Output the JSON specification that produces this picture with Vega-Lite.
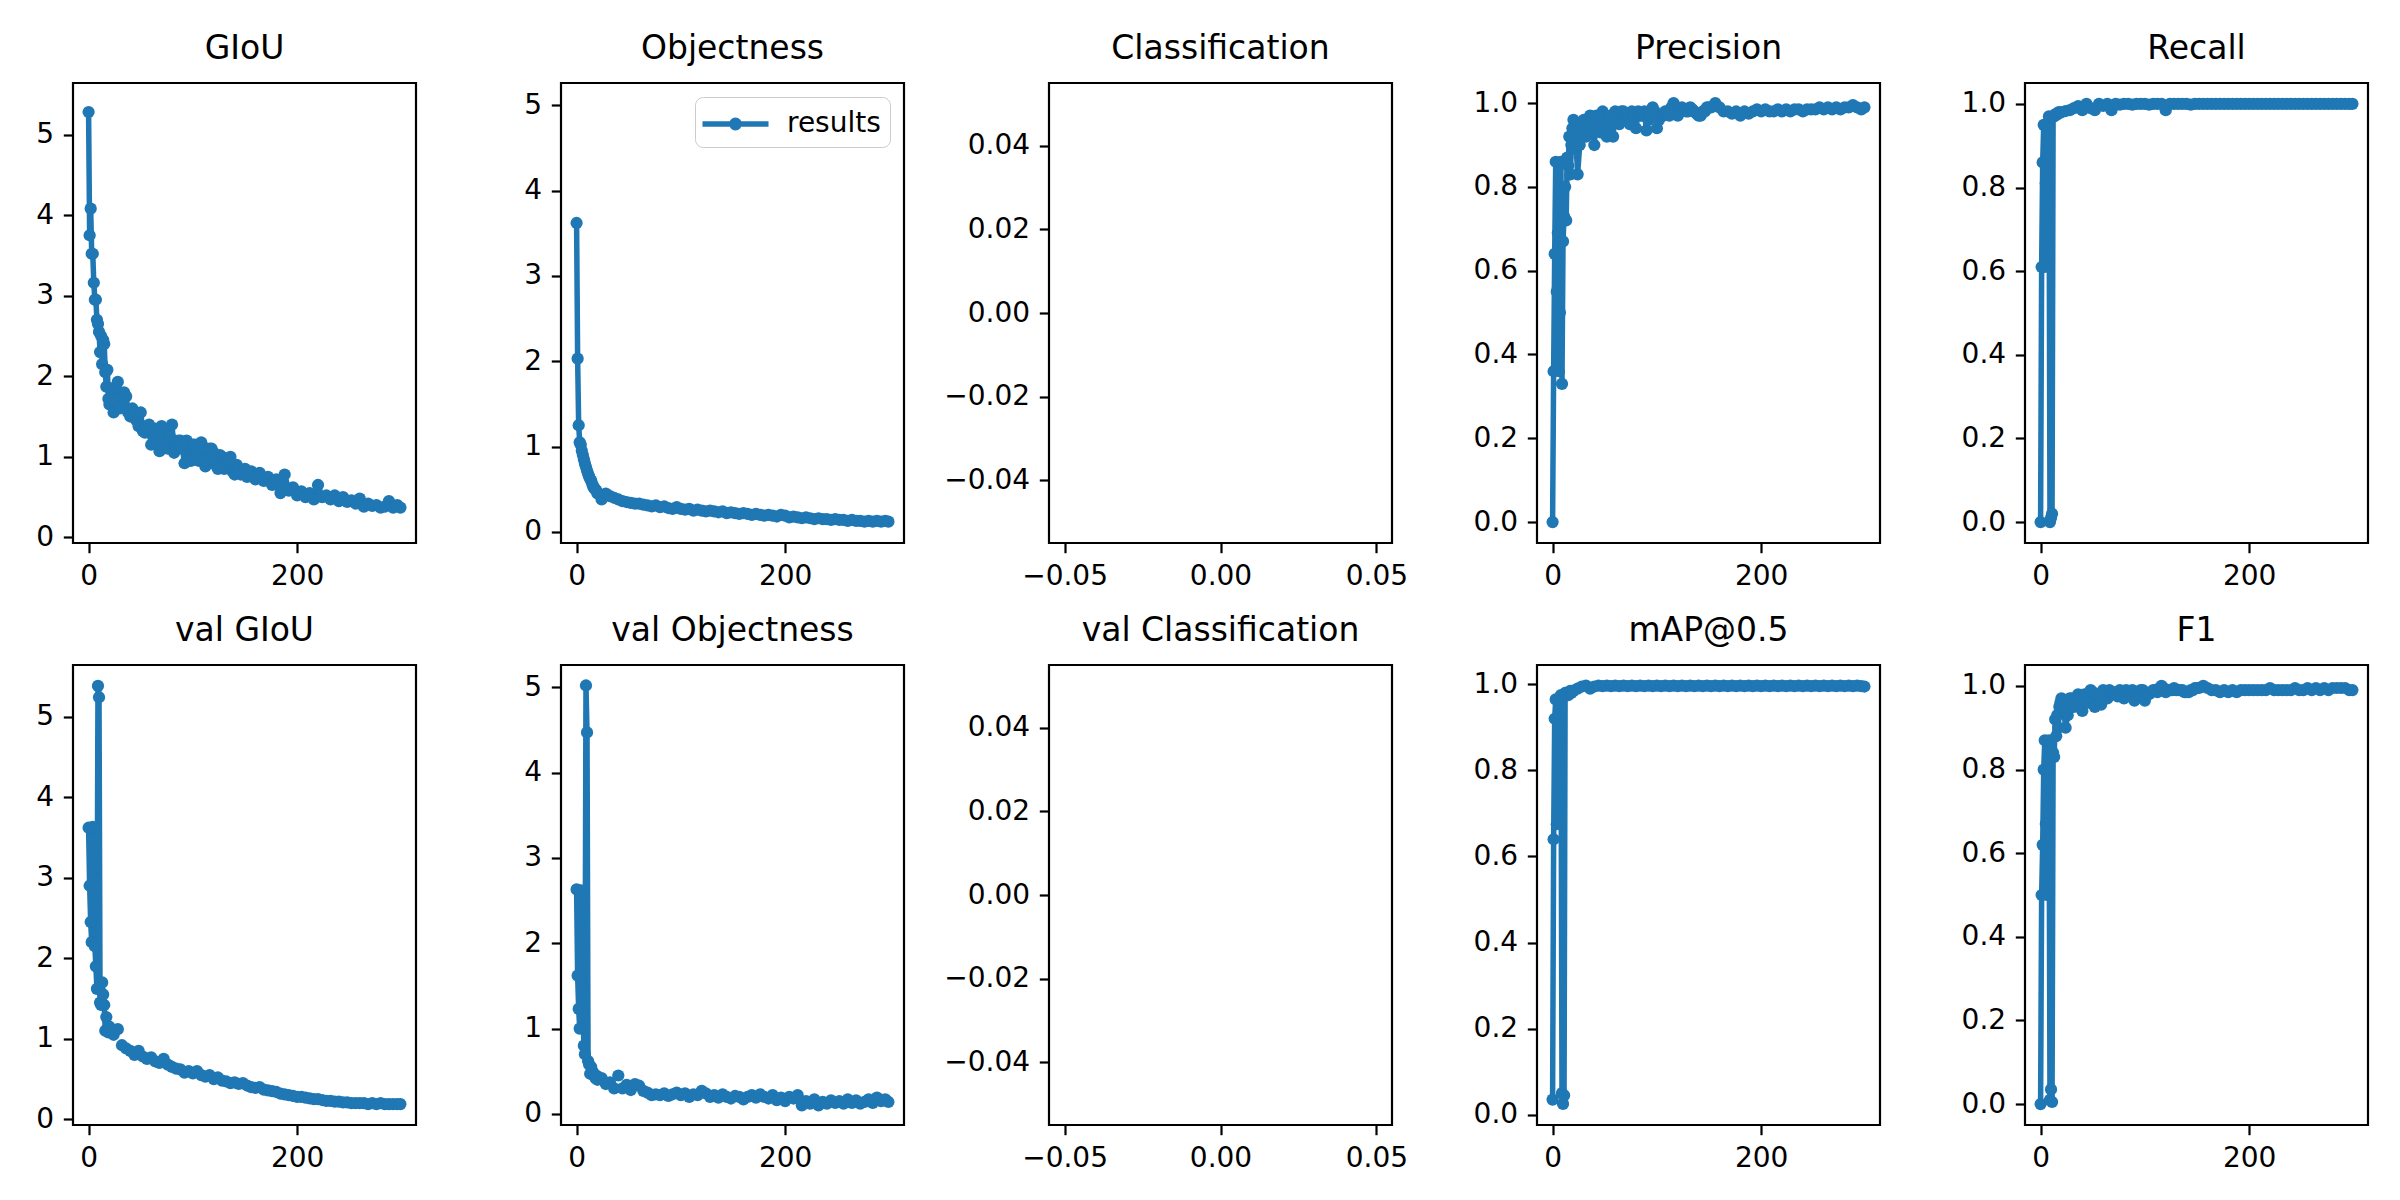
{
"$schema": "https://vega.github.io/schema/vega-lite/v6.json",
"background": "white",
"padding": {"left": 34, "top": 31, "right": 5, "bottom": 5},
"data": {"values": [
{"epoch":0,"giou":5.28,"obj":3.62,"precision":0.0,"recall":0.0,"val_giou":3.62,"val_obj":2.63,"map50":0.035,"f1":0.0},
{"epoch":1,"giou":3.75,"obj":2.03,"precision":0.36,"recall":0.61,"val_giou":2.9,"val_obj":1.62,"map50":0.64,"f1":0.5},
{"epoch":2,"giou":4.08,"obj":1.25,"precision":0.64,"recall":0.86,"val_giou":2.45,"val_obj":1.23,"map50":0.92,"f1":0.62},
{"epoch":3,"giou":3.52,"obj":1.05,"precision":0.86,"recall":0.95,"val_giou":2.2,"val_obj":1.0,"map50":0.965,"f1":0.8},
{"epoch":4,"giou":3.52,"obj":1.02,"precision":0.55,"recall":0.61,"val_giou":3.63,"val_obj":2.62,"map50":0.675,"f1":0.87},
{"epoch":5,"giou":3.16,"obj":0.95,"precision":0.69,"recall":0.81,"val_giou":3.0,"val_obj":1.63,"map50":0.695,"f1":0.67},
{"epoch":6,"giou":2.95,"obj":0.9,"precision":0.36,"recall":0.87,"val_giou":2.15,"val_obj":1.24,"map50":0.93,"f1":0.5},
{"epoch":7,"giou":2.95,"obj":0.85,"precision":0.5,"recall":0.95,"val_giou":1.9,"val_obj":0.8,"map50":0.97,"f1":0.8},
{"epoch":8,"giou":2.7,"obj":0.8,"precision":0.86,"recall":0.97,"val_giou":1.62,"val_obj":0.7,"map50":0.975,"f1":0.87},
{"epoch":9,"giou":2.65,"obj":0.76,"precision":0.33,"recall":0.0,"val_giou":5.38,"val_obj":5.02,"map50":0.05,"f1":0.01},
{"epoch":10,"giou":2.55,"obj":0.72,"precision":0.67,"recall":0.01,"val_giou":5.24,"val_obj":4.47,"map50":0.025,"f1":0.035},
{"epoch":11,"giou":2.3,"obj":0.68,"precision":0.73,"recall":0.02,"val_giou":1.45,"val_obj":0.62,"map50":0.045,"f1":0.005},
{"epoch":12,"giou":2.5,"obj":0.65,"precision":0.8,"recall":0.97,"val_giou":1.42,"val_obj":0.58,"map50":0.98,"f1":0.84},
{"epoch":13,"giou":2.15,"obj":0.62,"precision":0.72,"recall":0.97,"val_giou":1.7,"val_obj":0.47,"map50":0.975,"f1":0.83},
{"epoch":14,"giou":2.45,"obj":0.6,"precision":0.87,"recall":0.975,"val_giou":1.55,"val_obj":0.55,"map50":0.98,"f1":0.92},
{"epoch":15,"giou":2.4,"obj":0.56,"precision":0.85,"recall":0.975,"val_giou":1.42,"val_obj":0.5,"map50":0.975,"f1":0.88},
{"epoch":16,"giou":2.05,"obj":0.53,"precision":0.92,"recall":0.975,"val_giou":1.1,"val_obj":0.48,"map50":0.98,"f1":0.93},
{"epoch":17,"giou":1.87,"obj":0.51,"precision":0.83,"recall":0.98,"val_giou":1.27,"val_obj":0.45,"map50":0.985,"f1":0.9},
{"epoch":18,"giou":2.08,"obj":0.5,"precision":0.9,"recall":0.98,"val_giou":1.12,"val_obj":0.42,"map50":0.98,"f1":0.95},
{"epoch":19,"giou":1.72,"obj":0.48,"precision":0.94,"recall":0.98,"val_giou":1.08,"val_obj":0.45,"map50":0.985,"f1":0.96},
{"epoch":20,"giou":1.65,"obj":0.45,"precision":0.96,"recall":0.98,"val_giou":1.15,"val_obj":0.4,"map50":0.985,"f1":0.97},
{"epoch":22,"giou":1.85,"precision":0.93,"f1":0.95},
{"epoch":24,"giou":1.55,"obj":0.38,"precision":0.83,"recall":0.983,"val_giou":1.05,"val_obj":0.42,"map50":0.99,"f1":0.9},
{"epoch":26,"giou":1.7,"precision":0.9,"f1":0.93},
{"epoch":28,"giou":1.93,"obj":0.45,"precision":0.95,"recall":0.985,"val_giou":1.12,"val_obj":0.35,"map50":0.995,"f1":0.97},
{"epoch":30,"giou":1.6,"precision":0.96,"f1":0.97},
{"epoch":32,"giou":1.62,"obj":0.42,"precision":0.92,"recall":0.99,"val_giou":0.92,"val_obj":0.37,"map50":0.997,"f1":0.95},
{"epoch":34,"giou":1.8,"precision":0.94,"f1":0.96},
{"epoch":36,"giou":1.75,"obj":0.4,"precision":0.97,"recall":0.995,"val_giou":0.88,"val_obj":0.3,"map50":0.99,"f1":0.98},
{"epoch":38,"giou":1.55,"precision":0.96,"f1":0.975},
{"epoch":40,"giou":1.5,"obj":0.38,"precision":0.9,"recall":0.985,"val_giou":0.85,"val_obj":0.45,"map50":0.995,"f1":0.94},
{"epoch":42,"giou":1.6,"precision":0.97,"f1":0.98},
{"epoch":44,"giou":1.55,"obj":0.36,"precision":0.96,"recall":1.0,"val_giou":0.8,"val_obj":0.3,"map50":0.997,"f1":0.97},
{"epoch":46,"giou":1.45,"precision":0.93,"f1":0.96},
{"epoch":48,"giou":1.38,"obj":0.35,"precision":0.98,"recall":0.99,"val_giou":0.85,"val_obj":0.34,"map50":0.996,"f1":0.99},
{"epoch":50,"giou":1.55,"precision":0.97,"f1":0.985},
{"epoch":52,"giou":1.32,"obj":0.34,"precision":0.92,"recall":0.985,"val_giou":0.78,"val_obj":0.28,"map50":0.997,"f1":0.95},
{"epoch":54,"giou":1.3,"precision":0.96,"f1":0.98},
{"epoch":56,"giou":1.38,"obj":0.33,"precision":0.97,"recall":1.0,"val_giou":0.75,"val_obj":0.35,"map50":0.996,"f1":0.98},
{"epoch":58,"giou":1.4,"precision":0.92,"f1":0.955},
{"epoch":60,"giou":1.15,"obj":0.33,"precision":0.98,"recall":0.995,"val_giou":0.77,"val_obj":0.33,"map50":0.997,"f1":0.99},
{"epoch":62,"giou":1.25,"precision":0.97,"f1":0.985},
{"epoch":64,"giou":1.35,"obj":0.32,"precision":0.95,"recall":1.0,"val_giou":0.72,"val_obj":0.27,"map50":0.996,"f1":0.97},
{"epoch":66,"giou":1.2,"precision":0.98,"f1":0.99},
{"epoch":68,"giou":1.07,"obj":0.31,"precision":0.98,"recall":0.985,"val_giou":0.7,"val_obj":0.25,"map50":0.997,"f1":0.985},
{"epoch":70,"giou":1.38,"precision":0.97,"f1":0.985},
{"epoch":72,"giou":1.3,"obj":0.3,"precision":0.96,"recall":1.0,"val_giou":0.75,"val_obj":0.22,"map50":0.996,"f1":0.98},
{"epoch":74,"giou":1.15,"precision":0.95,"f1":0.975},
{"epoch":76,"giou":1.1,"obj":0.31,"precision":0.98,"recall":0.998,"val_giou":0.68,"val_obj":0.23,"map50":0.997,"f1":0.99},
{"epoch":78,"giou":1.25,"precision":0.97,"f1":0.985},
{"epoch":80,"giou":1.4,"obj":0.29,"precision":0.94,"recall":1.0,"val_giou":0.65,"val_obj":0.22,"map50":0.996,"f1":0.97},
{"epoch":82,"giou":1.05,"precision":0.98,"f1":0.99},
{"epoch":84,"giou":1.1,"obj":0.3,"precision":0.97,"recall":1.0,"val_giou":0.63,"val_obj":0.24,"map50":0.997,"f1":0.985},
{"epoch":86,"giou":1.2,"precision":0.97,"f1":0.985},
{"epoch":88,"giou":1.2,"obj":0.28,"precision":0.98,"recall":0.998,"val_giou":0.62,"val_obj":0.21,"map50":0.996,"f1":0.99},
{"epoch":90,"giou":1.1,"precision":0.935,"f1":0.965},
{"epoch":92,"giou":0.92,"obj":0.27,"precision":0.96,"recall":1.0,"val_giou":0.58,"val_obj":0.23,"map50":0.997,"f1":0.98},
{"epoch":94,"giou":1.2,"precision":0.97,"f1":0.985},
{"epoch":96,"giou":1.1,"obj":0.29,"precision":0.99,"recall":1.0,"val_giou":0.6,"val_obj":0.25,"map50":0.996,"f1":0.99},
{"epoch":98,"giou":0.95,"precision":0.98,"f1":0.99},
{"epoch":100,"giou":1.15,"obj":0.27,"precision":0.94,"recall":1.0,"val_giou":0.57,"val_obj":0.22,"map50":0.997,"f1":0.965},
{"epoch":102,"giou":1.15,"precision":0.96,"f1":0.98},
{"epoch":104,"giou":1.05,"obj":0.26,"precision":0.97,"recall":0.998,"val_giou":0.6,"val_obj":0.24,"map50":0.996,"f1":0.98},
{"epoch":106,"giou":0.95,"precision":0.97,"f1":0.985},
{"epoch":108,"giou":1.18,"obj":0.27,"precision":0.98,"recall":1.0,"val_giou":0.55,"val_obj":0.2,"map50":0.997,"f1":0.99},
{"epoch":110,"giou":1.12,"precision":0.98,"f1":0.99},
{"epoch":112,"giou":0.88,"obj":0.25,"precision":0.97,"recall":1.0,"val_giou":0.53,"val_obj":0.23,"map50":0.996,"f1":0.985},
{"epoch":114,"giou":0.95,"precision":0.99,"f1":0.995},
{"epoch":116,"giou":1.1,"obj":0.26,"precision":1.0,"recall":1.0,"val_giou":0.55,"val_obj":0.22,"map50":0.997,"f1":1.0},
{"epoch":118,"giou":1.1,"precision":0.99,"f1":0.995},
{"epoch":120,"giou":1.05,"obj":0.25,"precision":0.97,"recall":0.985,"val_giou":0.5,"val_obj":0.27,"map50":0.996,"f1":0.985},
{"epoch":122,"giou":0.9,"precision":0.98,"f1":0.99},
{"epoch":124,"giou":0.85,"obj":0.24,"precision":0.99,"recall":1.0,"val_giou":0.52,"val_obj":0.24,"map50":0.997,"f1":0.99},
{"epoch":126,"giou":1.02,"precision":0.985,"f1":0.99},
{"epoch":128,"giou":1.0,"obj":0.25,"precision":0.98,"recall":1.0,"val_giou":0.48,"val_obj":0.2,"map50":0.996,"f1":0.995},
{"epoch":130,"giou":0.85,"precision":0.98,"f1":0.99},
{"epoch":132,"giou":0.95,"obj":0.24,"precision":0.99,"recall":1.0,"val_giou":0.47,"val_obj":0.22,"map50":0.997,"f1":0.99},
{"epoch":134,"giou":0.98,"precision":0.985,"f1":0.99},
{"epoch":136,"giou":1.0,"obj":0.23,"precision":0.98,"recall":1.0,"val_giou":0.45,"val_obj":0.19,"map50":0.996,"f1":0.99},
{"epoch":138,"giou":0.82,"precision":0.975,"f1":0.985},
{"epoch":140,"giou":0.78,"obj":0.24,"precision":0.97,"recall":1.0,"val_giou":0.46,"val_obj":0.23,"map50":0.997,"f1":0.985},
{"epoch":142,"giou":0.9,"precision":0.97,"f1":0.985},
{"epoch":144,"giou":0.85,"obj":0.22,"precision":0.98,"recall":0.998,"val_giou":0.44,"val_obj":0.2,"map50":0.996,"f1":0.99},
{"epoch":146,"giou":0.78,"precision":0.98,"f1":0.99},
{"epoch":148,"giou":0.8,"obj":0.23,"precision":0.99,"recall":1.0,"val_giou":0.45,"val_obj":0.18,"map50":0.997,"f1":0.995},
{"epoch":150,"giou":0.85,"precision":0.99,"f1":0.995},
{"epoch":152,"giou":0.75,"obj":0.22,"precision":0.99,"recall":1.0,"val_giou":0.42,"val_obj":0.21,"map50":0.996,"f1":0.995},
{"epoch":156,"giou":0.82,"obj":0.21,"precision":1.0,"recall":1.0,"val_giou":0.4,"val_obj":0.2,"map50":0.997,"f1":1.0},
{"epoch":160,"giou":0.72,"obj":0.22,"precision":0.99,"recall":1.0,"val_giou":0.39,"val_obj":0.17,"map50":0.996,"f1":0.995},
{"epoch":164,"giou":0.8,"obj":0.21,"precision":0.98,"recall":1.0,"val_giou":0.4,"val_obj":0.2,"map50":0.997,"f1":0.99},
{"epoch":168,"giou":0.7,"obj":0.2,"precision":0.98,"recall":1.0,"val_giou":0.37,"val_obj":0.22,"map50":0.996,"f1":0.99},
{"epoch":172,"giou":0.75,"obj":0.21,"precision":0.975,"recall":1.0,"val_giou":0.36,"val_obj":0.19,"map50":0.997,"f1":0.985},
{"epoch":176,"giou":0.65,"obj":0.2,"precision":0.98,"recall":1.0,"val_giou":0.35,"val_obj":0.23,"map50":0.996,"f1":0.99},
{"epoch":180,"giou":0.72,"obj":0.19,"precision":0.97,"recall":1.0,"val_giou":0.34,"val_obj":0.2,"map50":0.997,"f1":0.985},
{"epoch":184,"giou":0.55,"obj":0.2,"precision":0.98,"recall":1.0,"val_giou":0.32,"val_obj":0.18,"map50":0.996,"f1":0.99},
{"epoch":188,"giou":0.78,"obj":0.19,"precision":0.975,"recall":1.0,"val_giou":0.31,"val_obj":0.22,"map50":0.997,"f1":0.985},
{"epoch":192,"giou":0.58,"obj":0.18,"precision":0.98,"recall":1.0,"val_giou":0.3,"val_obj":0.16,"map50":0.996,"f1":0.99},
{"epoch":196,"giou":0.62,"obj":0.2,"precision":0.985,"recall":1.0,"val_giou":0.29,"val_obj":0.19,"map50":0.997,"f1":0.99},
{"epoch":200,"giou":0.52,"obj":0.19,"precision":0.98,"recall":1.0,"val_giou":0.28,"val_obj":0.15,"map50":0.996,"f1":0.99},
{"epoch":204,"giou":0.57,"obj":0.17,"precision":0.985,"recall":1.0,"val_giou":0.28,"val_obj":0.2,"map50":0.997,"f1":0.99},
{"epoch":208,"giou":0.5,"obj":0.18,"precision":0.98,"recall":1.0,"val_giou":0.27,"val_obj":0.18,"map50":0.996,"f1":0.99},
{"epoch":212,"giou":0.55,"obj":0.17,"precision":0.98,"recall":1.0,"val_giou":0.26,"val_obj":0.22,"map50":0.997,"f1":0.99},
{"epoch":216,"giou":0.47,"obj":0.16,"precision":0.985,"recall":1.0,"val_giou":0.25,"val_obj":0.1,"map50":0.996,"f1":0.99},
{"epoch":220,"giou":0.65,"obj":0.17,"precision":0.98,"recall":1.0,"val_giou":0.25,"val_obj":0.15,"map50":0.997,"f1":0.995},
{"epoch":224,"giou":0.5,"obj":0.16,"precision":0.985,"recall":1.0,"val_giou":0.24,"val_obj":0.12,"map50":0.996,"f1":0.99},
{"epoch":228,"giou":0.52,"obj":0.15,"precision":0.98,"recall":1.0,"val_giou":0.23,"val_obj":0.17,"map50":0.997,"f1":0.99},
{"epoch":232,"giou":0.47,"obj":0.16,"precision":0.985,"recall":1.0,"val_giou":0.23,"val_obj":0.1,"map50":0.996,"f1":0.99},
{"epoch":236,"giou":0.52,"obj":0.15,"precision":0.985,"recall":1.0,"val_giou":0.22,"val_obj":0.14,"map50":0.997,"f1":0.99},
{"epoch":240,"giou":0.45,"obj":0.15,"precision":0.98,"recall":1.0,"val_giou":0.22,"val_obj":0.12,"map50":0.996,"f1":0.99},
{"epoch":244,"giou":0.5,"obj":0.14,"precision":0.985,"recall":1.0,"val_giou":0.21,"val_obj":0.16,"map50":0.997,"f1":0.995},
{"epoch":248,"giou":0.44,"obj":0.15,"precision":0.985,"recall":1.0,"val_giou":0.21,"val_obj":0.13,"map50":0.996,"f1":0.99},
{"epoch":252,"giou":0.46,"obj":0.14,"precision":0.985,"recall":1.0,"val_giou":0.2,"val_obj":0.15,"map50":0.997,"f1":0.99},
{"epoch":256,"giou":0.42,"obj":0.14,"precision":0.99,"recall":1.0,"val_giou":0.2,"val_obj":0.12,"map50":0.996,"f1":0.995},
{"epoch":260,"giou":0.48,"obj":0.13,"precision":0.985,"recall":1.0,"val_giou":0.2,"val_obj":0.17,"map50":0.997,"f1":0.99},
{"epoch":264,"giou":0.38,"obj":0.14,"precision":0.99,"recall":1.0,"val_giou":0.2,"val_obj":0.13,"map50":0.996,"f1":0.995},
{"epoch":268,"giou":0.42,"obj":0.13,"precision":0.985,"recall":1.0,"val_giou":0.19,"val_obj":0.16,"map50":0.997,"f1":0.99},
{"epoch":272,"giou":0.39,"obj":0.13,"precision":0.99,"recall":1.0,"val_giou":0.2,"val_obj":0.12,"map50":0.996,"f1":0.995},
{"epoch":276,"giou":0.4,"obj":0.12,"precision":0.985,"recall":1.0,"val_giou":0.19,"val_obj":0.14,"map50":0.997,"f1":0.99},
{"epoch":280,"giou":0.37,"obj":0.13,"precision":0.99,"recall":1.0,"val_giou":0.2,"val_obj":0.17,"map50":0.996,"f1":0.995},
{"epoch":284,"giou":0.38,"obj":0.12,"precision":0.99,"recall":1.0,"val_giou":0.19,"val_obj":0.13,"map50":0.997,"f1":0.995},
{"epoch":288,"giou":0.45,"obj":0.13,"precision":0.995,"recall":1.0,"val_giou":0.19,"val_obj":0.19,"map50":0.996,"f1":0.995},
{"epoch":292,"giou":0.37,"obj":0.12,"precision":0.99,"recall":1.0,"val_giou":0.19,"val_obj":0.15,"map50":0.997,"f1":0.995},
{"epoch":296,"giou":0.4,"obj":0.13,"precision":0.985,"recall":1.0,"val_giou":0.19,"val_obj":0.17,"map50":0.996,"f1":0.99},
{"epoch":299,"giou":0.37,"obj":0.12,"precision":0.99,"recall":1.0,"val_giou":0.19,"val_obj":0.14,"map50":0.995,"f1":0.99}
]},
"columns": 5,
"spacing": {"row": 122, "column": 145},
"bounds": "flush",
"resolve": {"scale": {"color": "independent"}, "legend": {"color": "independent"}},
"concat": [
{"width": 343, "height": 460, "title": "GIoU",
 "mark": {"type": "line", "point": {"filled": true, "size": 150, "opacity": 1}},
 "encoding": {
  "x": {"field": "epoch", "type": "quantitative", "scale": {"domain": [-14.95, 313.95], "nice": false, "zero": false}, "axis": {"title": null, "values": [0, 200], "format": "d"}},
  "y": {"field": "giou", "type": "quantitative", "scale": {"domain": [-0.07, 5.64], "nice": false, "zero": false}, "axis": {"title": null, "values": [0, 1, 2, 3, 4, 5], "format": "d"}}}},
{"width": 343, "height": 460, "title": "Objectness",
 "mark": {"type": "line", "point": {"filled": true, "size": 150, "opacity": 1}},
 "encoding": {
  "x": {"field": "epoch", "type": "quantitative", "scale": {"domain": [-14.95, 313.95], "nice": false, "zero": false}, "axis": {"title": null, "values": [0, 200], "format": "d"}},
  "y": {"field": "obj", "type": "quantitative", "scale": {"domain": [-0.13, 5.26], "nice": false, "zero": false}, "axis": {"title": null, "values": [0, 1, 2, 3, 4, 5], "format": "d"}},
  "color": {"datum": "results", "type": "nominal", "scale": {"range": ["#1f77b4"]},
   "legend": {"orient": "top-right", "title": null, "offset": 14, "padding": 9, "fillColor": "white", "strokeColor": "#cccccc", "cornerRadius": 8, "labelFontSize": 28, "labelColor": "black", "labelFont": "DejaVu Sans", "labelOffset": 47, "symbolSize": 900, "symbolStrokeWidth": 5.5, "symbolType": "M-1.3,0L3.1,0M1.15,0A0.25,0.25 0 1,1 0.65,0A0.25,0.25 0 1,1 1.15,0Z", "symbolFillColor": "#1f77b4", "symbolStrokeColor": "#1f77b4"}}}},
{"width": 343, "height": 460, "title": "Classification",
 "mark": {"type": "line", "point": {"filled": true, "size": 150, "opacity": 1}},
 "encoding": {
  "x": {"field": "epoch", "type": "quantitative", "scale": {"domain": [-0.055, 0.055], "nice": false, "zero": false}, "axis": {"title": null, "values": [-0.05, 0, 0.05], "format": ".2f"}},
  "y": {"field": "classification", "type": "quantitative", "scale": {"domain": [-0.055, 0.055], "nice": false, "zero": false}, "axis": {"title": null, "values": [-0.04, -0.02, 0, 0.02, 0.04], "format": ".2f"}}}},
{"width": 343, "height": 460, "title": "Precision",
 "mark": {"type": "line", "point": {"filled": true, "size": 150, "opacity": 1}},
 "encoding": {
  "x": {"field": "epoch", "type": "quantitative", "scale": {"domain": [-14.95, 313.95], "nice": false, "zero": false}, "axis": {"title": null, "values": [0, 200], "format": "d"}},
  "y": {"field": "precision", "type": "quantitative", "scale": {"domain": [-0.05, 1.048], "nice": false, "zero": false}, "axis": {"title": null, "values": [0, 0.2, 0.4, 0.6, 0.8, 1.0], "format": ".1f"}}}},
{"width": 343, "height": 460, "title": "Recall",
 "mark": {"type": "line", "point": {"filled": true, "size": 150, "opacity": 1}},
 "encoding": {
  "x": {"field": "epoch", "type": "quantitative", "scale": {"domain": [-14.95, 313.95], "nice": false, "zero": false}, "axis": {"title": null, "values": [0, 200], "format": "d"}},
  "y": {"field": "recall", "type": "quantitative", "scale": {"domain": [-0.05, 1.05], "nice": false, "zero": false}, "axis": {"title": null, "values": [0, 0.2, 0.4, 0.6, 0.8, 1.0], "format": ".1f"}}}},
{"width": 343, "height": 460, "title": "val GIoU",
 "mark": {"type": "line", "point": {"filled": true, "size": 150, "opacity": 1}},
 "encoding": {
  "x": {"field": "epoch", "type": "quantitative", "scale": {"domain": [-14.95, 313.95], "nice": false, "zero": false}, "axis": {"title": null, "values": [0, 200], "format": "d"}},
  "y": {"field": "val_giou", "type": "quantitative", "scale": {"domain": [-0.07, 5.64], "nice": false, "zero": false}, "axis": {"title": null, "values": [0, 1, 2, 3, 4, 5], "format": "d"}}}},
{"width": 343, "height": 460, "title": "val Objectness",
 "mark": {"type": "line", "point": {"filled": true, "size": 150, "opacity": 1}},
 "encoding": {
  "x": {"field": "epoch", "type": "quantitative", "scale": {"domain": [-14.95, 313.95], "nice": false, "zero": false}, "axis": {"title": null, "values": [0, 200], "format": "d"}},
  "y": {"field": "val_obj", "type": "quantitative", "scale": {"domain": [-0.13, 5.26], "nice": false, "zero": false}, "axis": {"title": null, "values": [0, 1, 2, 3, 4, 5], "format": "d"}}}},
{"width": 343, "height": 460, "title": "val Classification",
 "mark": {"type": "line", "point": {"filled": true, "size": 150, "opacity": 1}},
 "encoding": {
  "x": {"field": "epoch", "type": "quantitative", "scale": {"domain": [-0.055, 0.055], "nice": false, "zero": false}, "axis": {"title": null, "values": [-0.05, 0, 0.05], "format": ".2f"}},
  "y": {"field": "val_classification", "type": "quantitative", "scale": {"domain": [-0.055, 0.055], "nice": false, "zero": false}, "axis": {"title": null, "values": [-0.04, -0.02, 0, 0.02, 0.04], "format": ".2f"}}}},
{"width": 343, "height": 460, "title": "mAP@0.5",
 "mark": {"type": "line", "point": {"filled": true, "size": 150, "opacity": 1}},
 "encoding": {
  "x": {"field": "epoch", "type": "quantitative", "scale": {"domain": [-14.95, 313.95], "nice": false, "zero": false}, "axis": {"title": null, "values": [0, 200], "format": "d"}},
  "y": {"field": "map50", "type": "quantitative", "scale": {"domain": [-0.024, 1.045], "nice": false, "zero": false}, "axis": {"title": null, "values": [0, 0.2, 0.4, 0.6, 0.8, 1.0], "format": ".1f"}}}},
{"width": 343, "height": 460, "title": "F1",
 "mark": {"type": "line", "point": {"filled": true, "size": 150, "opacity": 1}},
 "encoding": {
  "x": {"field": "epoch", "type": "quantitative", "scale": {"domain": [-14.95, 313.95], "nice": false, "zero": false}, "axis": {"title": null, "values": [0, 200], "format": "d"}},
  "y": {"field": "f1", "type": "quantitative", "scale": {"domain": [-0.05, 1.05], "nice": false, "zero": false}, "axis": {"title": null, "values": [0, 0.2, 0.4, 0.6, 0.8, 1.0], "format": ".1f"}}}}
],
"config": {
 "font": "DejaVu Sans",
 "view": {"stroke": "black", "strokeWidth": 2.2, "fill": "white"},
 "line": {"color": "#1f77b4", "strokeWidth": 5.5, "strokeJoin": "round", "strokeCap": "round"},
 "point": {"color": "#1f77b4"},
 "axis": {"domain": false, "grid": false, "ticks": true, "tickColor": "black", "tickWidth": 2.2, "tickSize": 9.7, "labelFontSize": 28, "labelColor": "black", "labelPadding": 9.7, "labelFont": "DejaVu Sans", "labelFlush": false, "labelOverlap": false},
 "title": {"fontSize": 33, "fontWeight": "normal", "color": "black", "font": "DejaVu Sans", "offset": 17, "baseline": "alphabetic", "anchor": "middle"}
}
}
